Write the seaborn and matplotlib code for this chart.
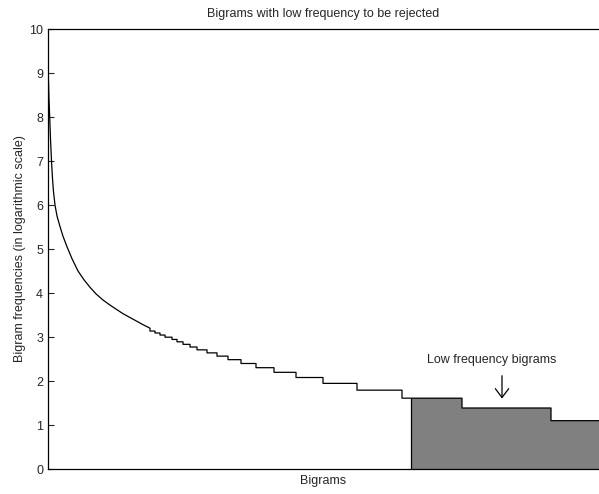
import numpy as np
import pandas as pd
import matplotlib
matplotlib.use("Agg")
import matplotlib.pyplot as plt
import seaborn as sns

# smooth head of the rank/frequency curve (log frequency)
head_rank = [0, 0.5, 1, 1.7, 2.5, 3.5, 4.5, 5.5, 7, 9, 12, 15, 19, 24, 30, 36, 42,
             48, 55, 63, 75, 87, 95, 102]
head_logfreq = [9.2, 8.8, 8.4, 8.0, 7.5, 7.0, 6.6, 6.3, 6.0, 5.75, 5.51, 5.29, 5.05,
                4.78, 4.5, 4.3, 4.13, 3.98, 3.84, 3.71, 3.53, 3.38, 3.28, 3.2]

# tail: integer bigram counts and the rank where each count ends
tail_counts = [23, 22, 21, 20, 19, 18, 17, 16, 15, 14, 13, 12, 11, 10, 9, 8, 7, 6, 5, 4, 3]
tail_end_rank = [107, 112, 117, 124, 129, 135, 142, 149, 159, 169, 180, 193, 208, 226,
                 248, 275, 309, 354, 414, 503, 592]

cutoff_rank = 363   # bigrams beyond this are rejected
x_max = 551

sns.set_style("ticks")
plt.rcParams['font.family'] = ['Liberation Sans', 'DejaVu Sans']

fig = plt.figure(figsize=(5.99, 4.94), dpi=100)
ax = fig.add_axes([48 / 599, 25 / 494, 551 / 599, 440 / 494])

# shaded region of rejected low-frequency bigrams (drawn first, curve on top)
tail_start = [head_rank[-1]] + tail_end_rank[:-1]
tail_log = list(np.log(tail_counts))
rej = pd.DataFrame({'start': tail_start, 'end': tail_end_rank, 'logfreq': tail_log})
rej = rej[rej['end'] > cutoff_rank].copy()
rej['start'] = rej['start'].clip(lower=cutoff_rank)
fill_x, fill_y = [], []
for s, e, v in zip(rej['start'], rej['end'], rej['logfreq']):
    fill_x += [s, e]
    fill_y += [v, v]
ax.fill_between(fill_x, 0, fill_y, color='#808080', lw=0)
ax.plot([cutoff_rank, cutoff_rank], [0, fill_y[0]], color='black', lw=0.9)

# one continuous path: smooth head followed by the staircase tail
path_x = list(head_rank)
path_y = list(head_logfreq)
for s, e, v in zip(tail_start, tail_end_rank, tail_log):
    path_x += [s, e]
    path_y += [v, v]
curve = pd.DataFrame({'rank': path_x, 'logfreq': path_y})
sns.lineplot(data=curve, x='rank', y='logfreq', ax=ax, color='black', lw=0.9,
             estimator=None, sort=False)

ax.text(444, 2.48, 'Low frequency bigrams', ha='center', va='center', fontsize=9)
ax.annotate('', xy=(454, 1.6), xytext=(454, 2.12),
            arrowprops=dict(arrowstyle='->, head_length=0.4, head_width=0.3',
                            color='black', lw=0.9, mutation_scale=16,
                            shrinkA=0, shrinkB=0))

ax.set_xlim(0, x_max)
ax.set_ylim(0, 10)
ax.set_yticks(range(0, 11))
ax.set_xticks([])
ax.tick_params(axis='y', direction='in', length=4, labelsize=9, width=0.8)
for side in ['left', 'top', 'bottom']:
    ax.spines[side].set_linewidth(0.9)
    ax.spines[side].set_color('black')
ax.spines['right'].set_visible(False)

ax.set_title('Bigrams with low frequency to be rejected', fontsize=9, pad=9)
ax.set_xlabel('Bigrams', fontsize=9, labelpad=4)
ax.set_ylabel('Bigram frequencies (in logarithmic scale)', fontsize=9, labelpad=2.5)

fig.savefig('out.png', dpi=100)
